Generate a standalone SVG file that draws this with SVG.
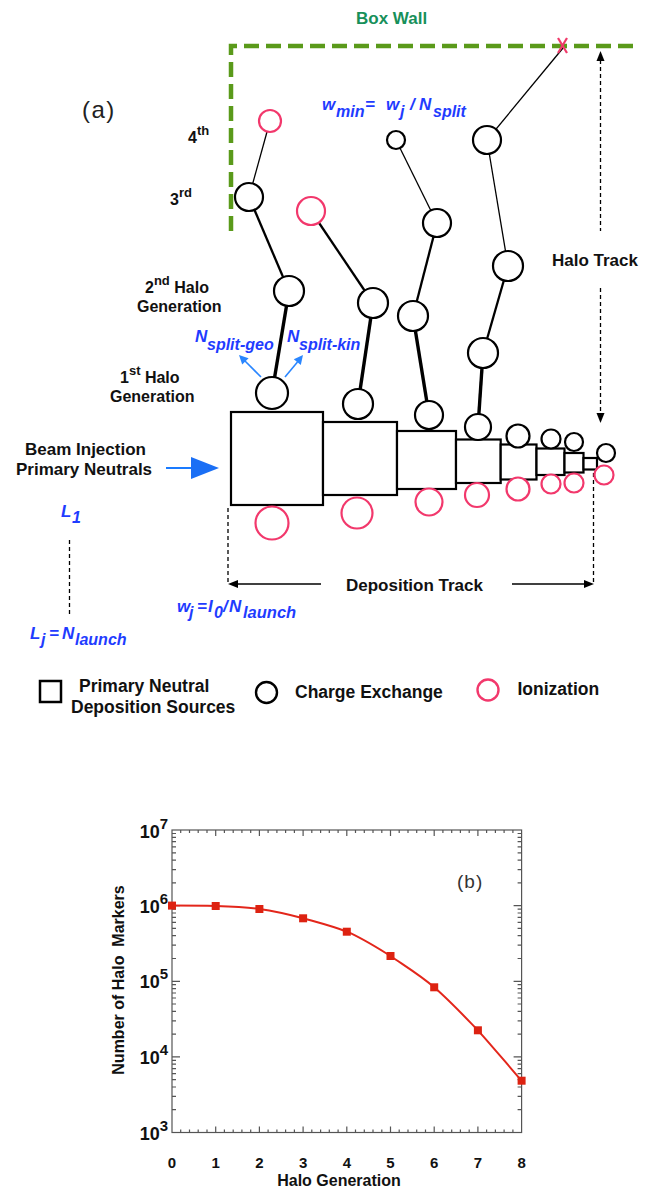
<svg xmlns="http://www.w3.org/2000/svg" width="654" height="1189" viewBox="0 0 654 1189">
<style>
.t{font-family:"Liberation Sans",Arial,sans-serif;font-weight:bold;fill:#111;font-size:17px}
.b{font-family:"Liberation Sans",Arial,sans-serif;font-weight:bold;font-style:italic;fill:#1f3cff;font-size:17px}
.s{font-size:16px}
.cx{fill:#fff;stroke:#000;stroke-width:2.2}
.io{fill:#fff;stroke:#f2386c;stroke-width:2.2}
.bx{fill:#fff;stroke:#000;stroke-width:2.2}
.dash{fill:none;stroke:#000;stroke-width:1.3;stroke-dasharray:4 3}
.thin{stroke:#000;stroke-width:1.3}
.med{stroke:#000;stroke-width:2.3}
.thick{stroke:#000;stroke-width:3.4}
.ax{fill:none;stroke:#555;stroke-width:1.2}
</style>
<rect width="654" height="1189" fill="#fff"/>

<!-- Part (a) -->
<text x="82" y="118" font-family="Liberation Sans,Arial,sans-serif" font-size="24" letter-spacing="1.5" fill="#222">(a)</text>
<text class="t" x="356" y="24" style="fill:#17905a">Box Wall</text>
<path id="wall" d="M231,231 V46 H640" fill="none" stroke="#5a9a1a" stroke-width="4.5" stroke-dasharray="15 7"/>

<g id="connectors">
  <line class="thin" x1="563" y1="48" x2="487" y2="140"/>
  <line class="thick" x1="272" y1="393" x2="289" y2="291"/>
  <line class="med" x1="289" y1="291" x2="249" y2="197"/>
  <line class="thin" x1="249" y1="197" x2="270" y2="121"/>
  <line class="thick" x1="358" y1="404" x2="373" y2="303"/>
  <line class="med" x1="373" y1="303" x2="311" y2="211"/>
  <line class="thick" x1="429" y1="415" x2="413" y2="316"/>
  <line class="med" x1="413" y1="316" x2="437" y2="223"/>
  <line class="thin" x1="437" y1="223" x2="396" y2="140"/>
  <line class="thick" x1="478" y1="427" x2="483" y2="353"/>
  <line class="med" x1="483" y1="353" x2="508" y2="266"/>
  <line class="thin" x1="508" y1="266" x2="487" y2="140"/>
  <!-- N split arrows -->
  <line x1="261" y1="377" x2="245" y2="361" stroke="#2a86ff" stroke-width="1.6"/>
  <polygon points="239,355 248.6,358.2 242.2,364.6" fill="#2a86ff"/>
  <line x1="285" y1="377" x2="297.5" y2="362" stroke="#2a86ff" stroke-width="1.6"/>
  <polygon points="303,355 300.8,364.9 293.8,359.2" fill="#2a86ff"/>
  <!-- beam injection arrow -->
  <line x1="166" y1="468" x2="193" y2="468" stroke="#1a7bff" stroke-width="2"/>
  <polygon points="191,457 219,468 191,479" fill="#1a6ff5"/>
  <!-- Halo track -->
  <line class="dash" x1="600.5" y1="60" x2="600.5" y2="231"/>
  <polygon points="600.5,51 596.5,61 604.5,61" fill="#000"/>
  <line class="dash" x1="600.5" y1="288" x2="600.5" y2="413"/>
  <polygon points="600.5,423 596.5,413 604.5,413" fill="#000"/>
  <!-- deposition track -->
  <line class="dash" x1="228" y1="508" x2="228" y2="584"/>
  <line class="dash" x1="593.5" y1="473" x2="593.5" y2="584"/>
  <line class="thin" x1="237" y1="584" x2="321" y2="584"/>
  <polygon points="228,584 238,580 238,588" fill="#000"/>
  <line class="thin" x1="512" y1="584" x2="585" y2="584"/>
  <polygon points="594,584 584,580 584,588" fill="#000"/>
  <!-- L dashed -->
  <line class="dash" x1="69.5" y1="540" x2="69.5" y2="617"/>
</g>

<g id="x-mark" stroke="#f03a6a" stroke-width="2.2">
  <line x1="558" y1="38" x2="567" y2="53"/>
  <line x1="567" y1="38" x2="558" y2="53"/>
</g>

<g id="boxes">
  <rect id="box1" class="bx" x="231" y="412" width="92" height="93"/>
  <rect id="box2" class="bx" x="323" y="422" width="74" height="73"/>
  <rect id="box3" class="bx" x="397" y="431" width="59" height="58"/>
  <rect id="box4" class="bx" x="456" y="439.5" width="44.7" height="43.5"/>
  <rect id="box5" class="bx" x="500.7" y="444.5" width="35.8" height="35"/>
  <rect id="box6" class="bx" x="536.5" y="448.5" width="28" height="26.5"/>
  <rect id="box7" class="bx" x="564.5" y="453" width="19" height="19.5"/>
  <rect id="box8" class="bx" x="583.5" y="458" width="13.5" height="11.5"/>
</g>

<g id="cx-nodes">
  <circle id="c1a" class="cx" cx="272" cy="393" r="16"/>
  <circle id="c1b" class="cx" cx="289" cy="291" r="15"/>
  <circle id="c1c" class="cx" cx="249" cy="197" r="14"/>
  <circle id="c2a" class="cx" cx="358" cy="404" r="15"/>
  <circle id="c2b" class="cx" cx="373" cy="303" r="15"/>
  <circle id="c3a" class="cx" cx="429" cy="415" r="14"/>
  <circle id="c3b" class="cx" cx="413" cy="316" r="15"/>
  <circle id="c3c" class="cx" cx="437" cy="223" r="14"/>
  <circle id="c3d" class="cx" cx="396" cy="140" r="9"/>
  <circle id="c4a" class="cx" cx="478" cy="427" r="13"/>
  <circle id="c4b" class="cx" cx="483" cy="353" r="15"/>
  <circle id="c4c" class="cx" cx="508" cy="266" r="15"/>
  <circle id="c4d" class="cx" cx="487" cy="140" r="14"/>
  <circle id="c5" class="cx" cx="518" cy="436" r="11.5"/>
  <circle id="c6" class="cx" cx="551" cy="439" r="9.5"/>
  <circle id="c7" class="cx" cx="574" cy="442" r="9"/>
  <circle id="c8" class="cx" cx="606" cy="453" r="9"/>
</g>

<g id="io-nodes">
  <circle id="r1d" class="io" cx="270" cy="121" r="11"/>
  <circle id="r2c" class="io" cx="311" cy="211" r="14"/>
  <circle id="r1" class="io" cx="272" cy="523" r="16.5"/>
  <circle id="r2" class="io" cx="357" cy="513" r="15.5"/>
  <circle id="r3" class="io" cx="429" cy="502" r="13.5"/>
  <circle id="r4" class="io" cx="477" cy="495" r="12"/>
  <circle id="r5" class="io" cx="518" cy="489" r="11.5"/>
  <circle id="r6" class="io" cx="551" cy="484" r="9.5"/>
  <circle id="r7" class="io" cx="574" cy="483" r="9.5"/>
  <circle id="r8" class="io" cx="604" cy="475" r="9.5"/>
</g>

<g id="labels-a">
  <text class="t" x="188" y="143" style="font-size:16px">4<tspan dy="-8" style="font-size:13px">th</tspan></text>
  <text class="t" x="170" y="205" style="font-size:16px">3<tspan dy="-8" style="font-size:13px">rd</tspan></text>
  <text class="t" x="145" y="293" style="font-size:16px">2<tspan dy="-8" style="font-size:13px">nd</tspan><tspan dy="8"> Halo</tspan></text>
  <text class="t" x="137" y="312" style="font-size:16px">Generation</text>
  <text class="t" x="120" y="383" style="font-size:16px">1<tspan dy="-8" style="font-size:13px">st</tspan><tspan dy="8"> Halo</tspan></text>
  <text class="t" x="110" y="402" style="font-size:16px">Generation</text>
  <text class="t" x="25" y="455">Beam Injection</text>
  <text class="t" x="16" y="475">Primary Neutrals</text>
  <text class="t" x="552" y="266">Halo Track</text>
  <text class="t" x="346" y="591">Deposition Track</text>

  <text class="b" y="110"><tspan x="322">w</tspan><tspan class="s" x="336" dy="7">min</tspan><tspan x="365" dy="-7">=</tspan><tspan x="386">w</tspan><tspan class="s" x="400" dy="7">j</tspan><tspan x="410" dy="-7">/</tspan><tspan x="419">N</tspan><tspan class="s" x="433" dy="7">split</tspan></text>
  <text class="b" y="342"><tspan x="195">N</tspan><tspan class="s" x="207" dy="8">split-geo</tspan></text>
  <text class="b" y="342"><tspan x="287">N</tspan><tspan class="s" x="299" dy="8">split-kin</tspan></text>
  <text class="b" y="517"><tspan x="61">L</tspan><tspan class="s" x="72" dy="6">1</tspan></text>
  <text class="b" y="612"><tspan x="177">w</tspan><tspan class="s" x="189" dy="6">j</tspan><tspan x="197" dy="-6">=</tspan><tspan x="208">I</tspan><tspan class="s" x="214" dy="6">0</tspan><tspan x="223" dy="-6">/</tspan><tspan x="229">N</tspan><tspan class="s" x="243" dy="6" style="font-size:16.5px">launch</tspan></text>
  <text class="b" y="639"><tspan x="30">L</tspan><tspan class="s" x="41" dy="6">j</tspan><tspan x="49" dy="-6">=</tspan><tspan x="62">N</tspan><tspan class="s" x="75" dy="6">launch</tspan></text>
</g>

<g id="legend">
  <rect x="40" y="681" width="21" height="21" fill="none" stroke="#000" stroke-width="2.5"/>
  <text class="t" x="79" y="692" style="font-size:17.5px">Primary Neutral</text>
  <text class="t" x="71" y="713" style="font-size:17.5px">Deposition Sources</text>
  <circle cx="266.5" cy="692.5" r="10.5" fill="none" stroke="#000" stroke-width="2.4"/>
  <text class="t" x="295" y="698" style="font-size:17.5px">Charge Exchange</text>
  <circle cx="488" cy="690" r="10.5" fill="none" stroke="#f2386c" stroke-width="2.4"/>
  <text class="t" x="517.5" y="695" style="font-size:17.5px">Ionization</text>
</g>

<!-- Part (b) -->
<g id="plot">
  <rect class="ax" x="172" y="830" width="349.6" height="302.5"/>
  <path class="ax" d="M172,1109.7h4M172,1096.4h4M172,1087h4M172,1079.6h4M172,1073.7h4M172,1068.6h4M172,1064.2h4M172,1060.3h4
  M172,1034.1h4M172,1020.8h4M172,1011.4h4M172,1004h4M172,998h4M172,993h4M172,988.6h4M172,984.7h4
  M172,958.5h4M172,945.2h4M172,935.7h4M172,928.4h4M172,922.4h4M172,917.3h4M172,913h4M172,909.1h4
  M172,882.9h4M172,869.6h4M172,860.1h4M172,852.8h4M172,846.8h4M172,841.7h4M172,837.3h4M172,833.5h4
  M172,1056.9h8M172,981.3h8M172,905.6h8"/>
  <path class="ax" d="M521.6,1109.7h-4M521.6,1096.4h-4M521.6,1087h-4M521.6,1079.6h-4M521.6,1073.7h-4M521.6,1068.6h-4M521.6,1064.2h-4M521.6,1060.3h-4
  M521.6,1034.1h-4M521.6,1020.8h-4M521.6,1011.4h-4M521.6,1004h-4M521.6,998h-4M521.6,993h-4M521.6,988.6h-4M521.6,984.7h-4
  M521.6,958.5h-4M521.6,945.2h-4M521.6,935.7h-4M521.6,928.4h-4M521.6,922.4h-4M521.6,917.3h-4M521.6,913h-4M521.6,909.1h-4
  M521.6,882.9h-4M521.6,869.6h-4M521.6,860.1h-4M521.6,852.8h-4M521.6,846.8h-4M521.6,841.7h-4M521.6,837.3h-4M521.6,833.5h-4
  M521.6,1056.9h-8M521.6,981.3h-8M521.6,905.6h-8"/>
  <path class="ax" d="M180.7,1132.5v-3M189.5,1132.5v-3M198.2,1132.5v-3M207,1132.5v-3M224.4,1132.5v-3M233.2,1132.5v-3M241.9,1132.5v-3M250.7,1132.5v-3
  M268.1,1132.5v-3M276.9,1132.5v-3M285.6,1132.5v-3M294.4,1132.5v-3M311.8,1132.5v-3M320.6,1132.5v-3M329.3,1132.5v-3M338.1,1132.5v-3
  M355.5,1132.5v-3M364.3,1132.5v-3M373,1132.5v-3M381.8,1132.5v-3M399.2,1132.5v-3M408,1132.5v-3M416.7,1132.5v-3M425.5,1132.5v-3
  M442.9,1132.5v-3M451.7,1132.5v-3M460.4,1132.5v-3M469.2,1132.5v-3M486.6,1132.5v-3M495.4,1132.5v-3M504.1,1132.5v-3M512.9,1132.5v-3
  M215.7,1132.5v-6M259.4,1132.5v-6M303.1,1132.5v-6M346.8,1132.5v-6M390.5,1132.5v-6M434.2,1132.5v-6M477.9,1132.5v-6"/>
  <path class="ax" d="M180.7,830v3M189.5,830v3M198.2,830v3M207,830v3M224.4,830v3M233.2,830v3M241.9,830v3M250.7,830v3
  M268.1,830v3M276.9,830v3M285.6,830v3M294.4,830v3M311.8,830v3M320.6,830v3M329.3,830v3M338.1,830v3
  M355.5,830v3M364.3,830v3M373,830v3M381.8,830v3M399.2,830v3M408,830v3M416.7,830v3M425.5,830v3
  M442.9,830v3M451.7,830v3M460.4,830v3M469.2,830v3M486.6,830v3M495.4,830v3M504.1,830v3M512.9,830v3
  M215.7,830v6M259.4,830v6M303.1,830v6M346.8,830v6M390.5,830v6M434.2,830v6M477.9,830v6"/>

  <path d="M172,905.6 C186.6,905.6 201,905.6 215.7,906 C230.3,906.5 245,907 259.4,909 C274,911 289,914.5 303.1,918.3 C318,922.5 332,926 346.8,931.7 C362,938 376,947 390.5,956 C405,966 420,975 434.2,987.3 C449,1000 463,1015 477.9,1030.3 C493,1047 507,1064 521.6,1080.7" fill="none" stroke="#e3261b" stroke-width="2" stroke-linejoin="round"/>
  <g fill="#dd2211">
    <rect x="168" y="901.6" width="8" height="8"/>
    <rect x="211.7" y="902" width="8" height="8"/>
    <rect x="255.4" y="905" width="8" height="8"/>
    <rect x="299.1" y="914.3" width="8" height="8"/>
    <rect x="342.8" y="927.7" width="8" height="8"/>
    <rect x="386.5" y="952" width="8" height="8"/>
    <rect x="430.2" y="983.3" width="8" height="8"/>
    <rect x="473.9" y="1026.3" width="8" height="8"/>
    <rect x="517.6" y="1076.7" width="8" height="8"/>
  </g>

  <g class="t" style="font-size:18px" text-anchor="end">
    <text x="168" y="838">10<tspan dy="-9" style="font-size:15px">7</tspan></text>
    <text x="168" y="913">10<tspan dy="-9" style="font-size:15px">6</tspan></text>
    <text x="168" y="988">10<tspan dy="-9" style="font-size:15px">5</tspan></text>
    <text x="168" y="1064">10<tspan dy="-9" style="font-size:15px">4</tspan></text>
    <text x="168" y="1140">10<tspan dy="-9" style="font-size:15px">3</tspan></text>
  </g>
  <g class="t" style="font-size:15px" text-anchor="middle">
    <text x="172" y="1168">0</text>
    <text x="215.7" y="1168">1</text>
    <text x="259.4" y="1168">2</text>
    <text x="303.1" y="1168">3</text>
    <text x="346.8" y="1168">4</text>
    <text x="390.5" y="1168">5</text>
    <text x="434.2" y="1168">6</text>
    <text x="477.9" y="1168">7</text>
    <text x="521.6" y="1168">8</text>
  </g>
  <text class="t" x="339" y="1186" text-anchor="middle" style="font-size:16px">Halo Generation</text>
  <text class="t" transform="translate(124,980) rotate(-90)" text-anchor="middle" xml:space="preserve" style="font-size:16px">Number of Halo  Markers</text>
  <text x="457" y="888" font-family="Liberation Sans,Arial,sans-serif" font-size="19" letter-spacing="1" fill="#333">(b)</text>
</g>
</svg>
